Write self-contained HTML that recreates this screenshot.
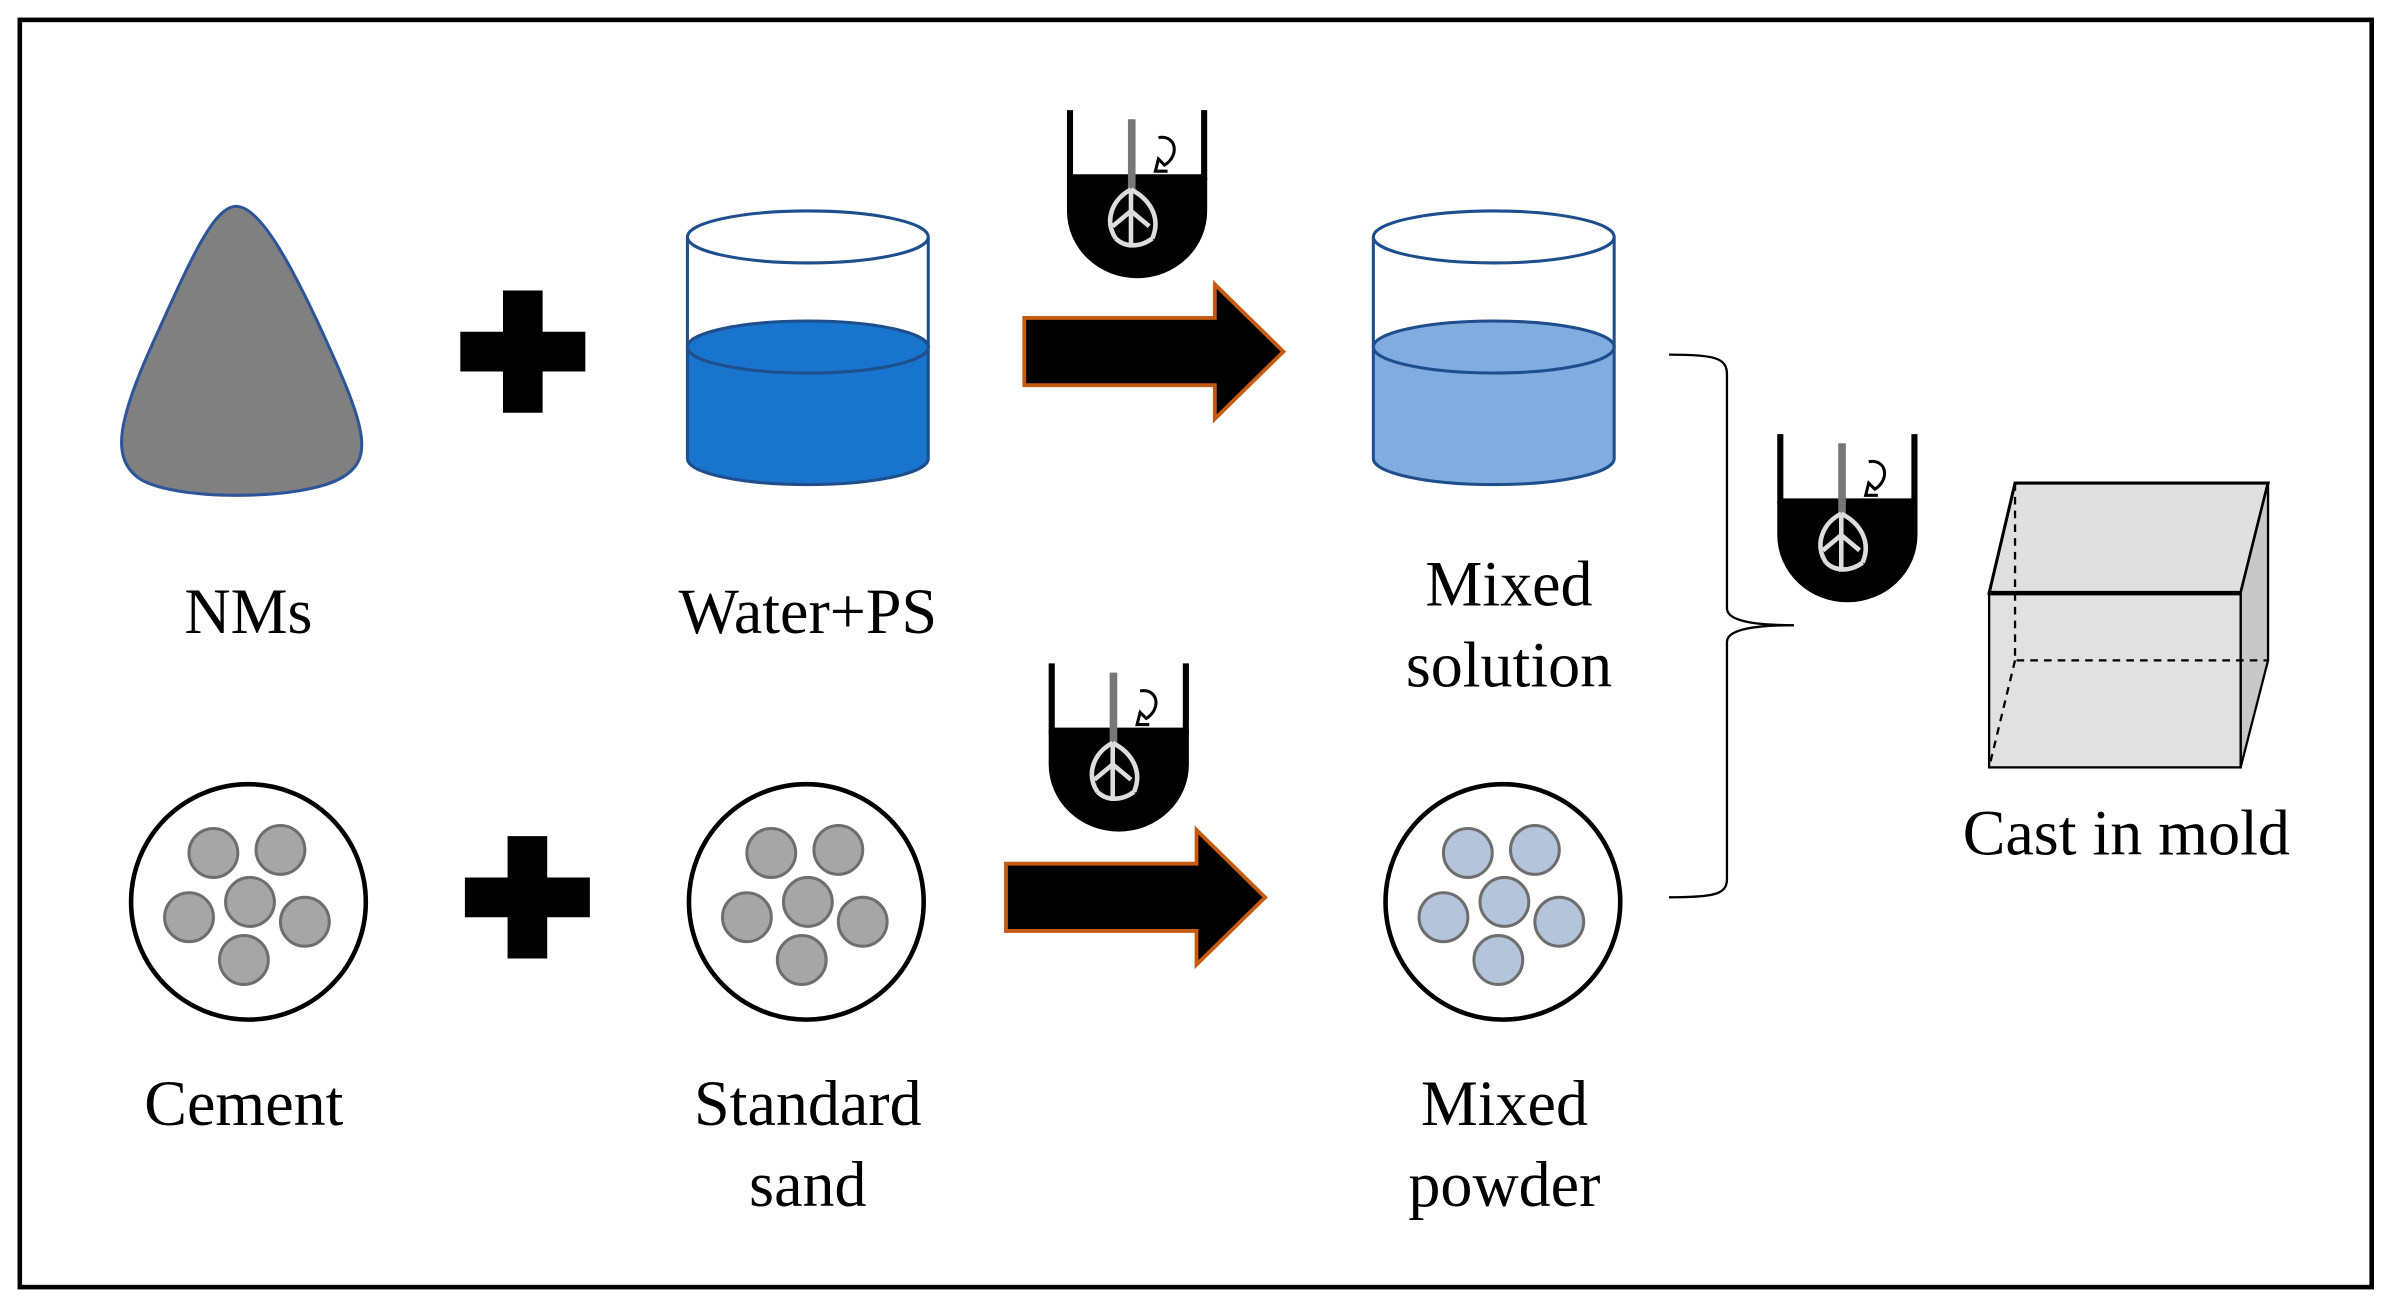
<!DOCTYPE html>
<html><head><meta charset="utf-8"><style>
html,body{margin:0;padding:0;background:#fff;}
svg{display:block;}
text{font-family:"Liberation Serif",serif;font-size:42px;fill:#000;text-anchor:middle;}
</style></head><body>
<svg width="2390" height="1307" viewBox="0 0 1568 855" preserveAspectRatio="none" xmlns="http://www.w3.org/2000/svg">
<defs>
<g id="mixer">
  <path d="M0,0 V44 H88 V0" fill="none" stroke="#000" stroke-width="4"/>
  <path d="M-2,44 H90 V66 A46,44 0 0 1 -2,66 Z" fill="#000"/>
  <rect x="38" y="6" width="5" height="46" fill="#777"/>
  <path d="M40,52 C28,58 22,72 30,84 M40,52 C52,58 60,70 54,84 M40,52 V90 M30,84 C36,90 46,90 54,84 M40,66 L28,76 M40,66 L52,76" stroke="#ddd" stroke-width="3" fill="none"/>
  <path d="M58,18 C70,16 72,30 62,36 L58,32 L56,40 L64,40" stroke="#000" stroke-width="2" fill="#fff"/>
</g>
<g id="dots">
  <circle cx="-23" cy="-32" r="16"/><circle cx="21" cy="-34" r="16"/>
  <circle cx="-39" cy="10" r="16"/><circle cx="1" cy="0" r="16"/>
  <circle cx="37" cy="13" r="16"/><circle cx="-3" cy="38" r="16"/>
</g>
</defs>
<rect x="13" y="13" width="1543" height="829" fill="#fff" stroke="#000" stroke-width="3"/>

<path d="M155,135 C140,135 125,170 100,225 C75,280 75,300 90,312 C110,328 200,328 225,312 C245,300 240,280 215,225 C190,170 170,135 155,135 Z" fill="#808080" stroke="#2e5597" stroke-width="2"/>
<path d="M330,190 h26 v27 h28 v26 h-28 v27 h-26 v-27 h-28 v-26 h28 Z" fill="#000"/>
<path d="M333,547 h26 v27 h28 v26 h-28 v27 h-26 v-27 h-28 v-26 h28 Z" fill="#000"/>

<path d="M451,227 V300 A79,17 0 0 0 609,300 V227 Z" fill="#1874cd" stroke="#1f4e8c" stroke-width="2"/>
<ellipse cx="530" cy="227" rx="79" ry="17" fill="#1874cd" stroke="#1f4e8c" stroke-width="2"/>
<path d="M451,155 V227 M609,155 V227" stroke="#1f4e8c" stroke-width="2"/>
<ellipse cx="530" cy="155" rx="79" ry="17" fill="#fff" stroke="#1f4e8c" stroke-width="2"/>
<path d="M901,227 V300 A79,17 0 0 0 1059,300 V227 Z" fill="#80acdf" stroke="#1f4e8c" stroke-width="2"/>
<ellipse cx="980" cy="227" rx="79" ry="17" fill="#80acdf" stroke="#1f4e8c" stroke-width="2"/>
<path d="M901,155 V227 M1059,155 V227" stroke="#1f4e8c" stroke-width="2"/>
<ellipse cx="980" cy="155" rx="79" ry="17" fill="#fff" stroke="#1f4e8c" stroke-width="2"/>

<path d="M672,208 H797 V186 L842,230 L797,274 V252 H672 Z" fill="#000" stroke="#c55a11" stroke-width="2.5"/>
<path d="M660,565 H785 V543 L830,587 L785,631 V609 H660 Z" fill="#000" stroke="#c55a11" stroke-width="2.5"/>

<use href="#mixer" x="702" y="72"/>
<use href="#mixer" x="690" y="434"/>
<use href="#mixer" x="1168" y="284"/>

<circle cx="163" cy="590" r="77" fill="#fff" stroke="#000" stroke-width="3"/>
<g fill="#a6a6a6" stroke="#6e6e6e" stroke-width="2" transform="translate(163,590)"><use href="#dots"/></g>
<circle cx="529" cy="590" r="77" fill="#fff" stroke="#000" stroke-width="3"/>
<g fill="#a6a6a6" stroke="#6e6e6e" stroke-width="2" transform="translate(529,590)"><use href="#dots"/></g>
<circle cx="986" cy="590" r="77" fill="#fff" stroke="#000" stroke-width="3"/>
<g fill="#b4c4da" stroke="#6e6e6e" stroke-width="2" transform="translate(986,590)"><use href="#dots"/></g>

<path d="M1095,232 C1125,232 1133,234 1133,245 V398 C1133,406 1150,409 1177,409 C1150,409 1133,412 1133,420 V575 C1133,585 1125,587 1095,587" fill="none" stroke="#000" stroke-width="1.5"/>

<path d="M1305,388 L1322,316 H1488 L1470,388 Z" fill="#e0e0e0" stroke="#000" stroke-width="2"/>
<path d="M1470,388 L1488,316 V432 L1470,502 Z" fill="#c8c8c8" stroke="#000" stroke-width="1.5"/>
<rect x="1305" y="388" width="165" height="114" fill="#d9d9d9" fill-opacity="0.8" stroke="#000" stroke-width="1.5"/>
<path d="M1305,388 H1470" stroke="#000" stroke-width="3"/>
<path d="M1322,316 V432 H1488 M1322,432 L1305,502" fill="none" stroke="#000" stroke-width="1.5" stroke-dasharray="5,4"/>

<text x="163" y="414">NMs</text>
<text x="530" y="414">Water+PS</text>
<text x="990" y="396">Mixed</text>
<text x="990" y="449">solution</text>
<text x="160" y="736">Cement</text>
<text x="530" y="736">Standard</text>
<text x="530" y="789">sand</text>
<text x="987" y="736">Mixed</text>
<text x="987" y="789">powder</text>
<text x="1395" y="559">Cast in mold</text>
</svg>
</body></html>
